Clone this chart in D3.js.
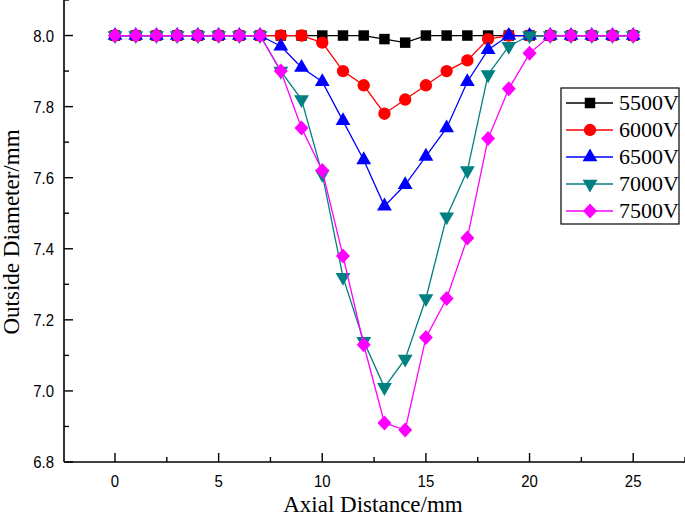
<!DOCTYPE html>
<html><head><meta charset="utf-8">
<script src="https://cdn.jsdelivr.net/npm/d3@7"></script>
<style>body{margin:0;background:#fff}svg{display:block}</style>
</head><body>
<svg id="c" width="685" height="517"></svg>
<script>
const xs = d3.range(0, 26);
const seriesNames = ["5500V","6000V","6500V","7000V","7500V"];
const v5500 = [8,8,8,8,8,8,8,8,8,8,8,8,8,7.99,7.98,8,8,8,8,8,8,8,8,8,8,8];
const v6000 = [8,8,8,8,8,8,8,8,8,8,7.98,7.90,7.86,7.78,7.82,7.86,7.90,7.93,7.99,8,8,8,8,8,8,8];
const v6500 = [8,8,8,8,8,8,8,8,7.97,7.91,7.87,7.76,7.65,7.52,7.58,7.66,7.74,7.87,7.96,8,8,8,8,8,8,8];
const v7000 = [8,8,8,8,8,8,8,8,7.90,7.82,7.61,7.32,7.14,7.01,7.09,7.26,7.49,7.62,7.89,7.97,8,8,8,8,8,8];
const v7500 = [8,8,8,8,8,8,8,8,7.90,7.74,7.62,7.38,7.13,6.91,6.89,7.15,7.26,7.43,7.71,7.85,7.95,8,8,8,8,8];
const xTicks = [0,5,10,15,20,25];
const yTicks = [6.8,7.0,7.2,7.4,7.6,7.8,8.0];
const colors = ["#000000","#ff0000","#0000ff","#008080","#ff00ff"];
const shapes = [d3.symbolSquare, d3.symbolCircle, d3.symbolTriangle, "tridown", "diamond"];
const allVals = [v5500,v6000,v6500,v7000,v7500];

const svg = d3.select("#c");
const x = d3.scaleLinear().domain([-2.46, 27.5]).range([64, 685]);
const y = d3.scaleLinear().domain([6.8, 8.1]).range([462, 0]);

const gx = svg.append("g").attr("transform","translate(0,462)");
gx.append("line").attr("x1",64).attr("x2",685).attr("y1",0).attr("y2",0).attr("stroke","#000").attr("stroke-width",1.6);
d3.range(0, 27.6, 2.5).forEach(t => {
  const major = Math.abs(t % 5) < 1e-9;
  gx.append("line").attr("x1",x(t)).attr("x2",x(t)).attr("y1",0).attr("y2",major?-9:-5).attr("stroke","#000").attr("stroke-width",1.4);
});
gx.selectAll("text.xt").data(xTicks).enter().append("text")
  .attr("x",d=>x(d)).attr("y",25).attr("text-anchor","middle")
  .attr("font-family","Liberation Sans, Arial, sans-serif").attr("font-size",17)
  .attr("transform",d=>`translate(${x(d)},0) scale(0.88,1) translate(${-x(d)},0)`).text(d=>d);

const gy = svg.append("g");
gy.append("line").attr("x1",64).attr("x2",64).attr("y1",0).attr("y2",462).attr("stroke","#000").attr("stroke-width",1.6);
d3.range(6.8, 8.11, 0.1).forEach((t,i) => {
  const major = i % 2 === 0;
  gy.append("line").attr("x1",64).attr("x2",major?73:69).attr("y1",y(t)).attr("y2",y(t)).attr("stroke","#000").attr("stroke-width",1.4);
});
gy.selectAll("text.yt").data(yTicks).enter().append("text")
  .attr("x",54).attr("y",d=>y(d)+6).attr("text-anchor","end")
  .attr("font-family","Liberation Sans, Arial, sans-serif").attr("font-size",17)
  .attr("transform",`translate(54,0) scale(0.88,1) translate(-54,0)`).text(d=>d3.format(".1f")(d));

svg.append("text").attr("x",373).attr("y",512).attr("text-anchor","middle")
  .attr("font-family","Liberation Serif, Times New Roman, serif").attr("font-size",23).text("Axial Distance/mm");
svg.append("text").attr("transform","translate(19,232) rotate(-90)").attr("text-anchor","middle")
  .attr("font-family","Liberation Serif, Times New Roman, serif").attr("font-size",23).text("Outside Diameter/mm");

function symPath(k){
  const s = shapes[k];
  if (s === "tridown") return d3.symbol(d3.symbolTriangle).size(95)();
  if (s === "diamond") return "M0,-7.5L7,0L0,7.5L-7,0Z";
  if (s === d3.symbolSquare) return d3.symbol(s).size(110)();
  if (s === d3.symbolCircle) return d3.symbol(s).size(120)();
  return d3.symbol(s).size(95)();
}
function symTransform(k, px, py){
  return shapes[k] === "tridown" ? `translate(${px},${py}) rotate(180)` : `translate(${px},${py})`;
}

const line = d3.line().x(d=>x(d[0])).y(d=>y(d[1]));
allVals.forEach((vals,k) => {
  const pts = xs.map((xv,i)=>[xv, vals[i]]);
  const g = svg.append("g");
  g.append("path").attr("d", line(pts)).attr("fill","none").attr("stroke",colors[k]).attr("stroke-width",1.3);
  g.selectAll("path.m").data(pts).enter().append("path")
    .attr("d", symPath(k)).attr("transform", d=>symTransform(k, x(d[0]), y(d[1]))).attr("fill", colors[k]);
});

const lg = svg.append("g");
lg.append("rect").attr("x",561).attr("y",88).attr("width",118).attr("height",136).attr("fill","#fff").attr("stroke","#000").attr("stroke-width",1.2);
seriesNames.forEach((n,k) => {
  const ly = 103 + k*27;
  lg.append("line").attr("x1",566).attr("x2",613).attr("y1",ly).attr("y2",ly).attr("stroke",colors[k]).attr("stroke-width",1.3);
  lg.append("path").attr("d",symPath(k)).attr("transform",symTransform(k,590,ly)).attr("fill",colors[k]);
  lg.append("text").attr("x",619).attr("y",ly+7).attr("font-family","Liberation Serif, Times New Roman, serif").attr("font-size",22).text(n);
});
</script>
</body></html>
